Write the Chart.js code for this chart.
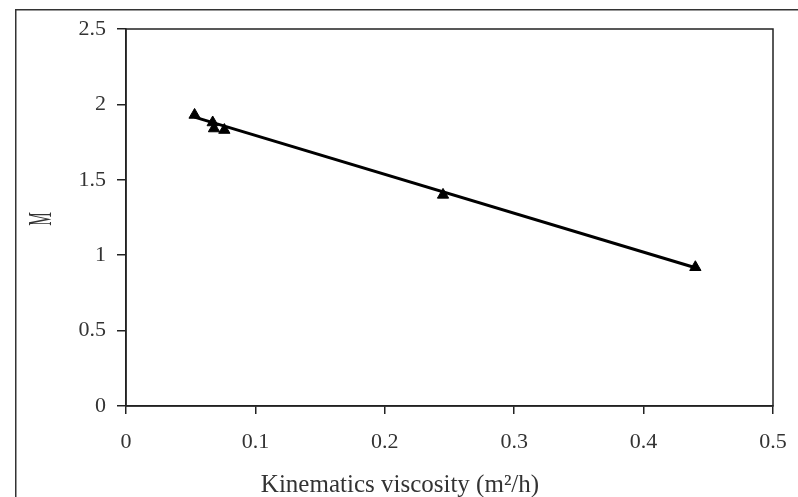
<!DOCTYPE html>
<html>
<head>
<meta charset="utf-8">
<script src="https://cdn.jsdelivr.net/npm/chart.js@4/dist/chart.umd.min.js"></script>
<style>
html,body{margin:0;padding:0;background:#fff;}
#wrap{position:relative;width:798px;height:497px;}
</style>
</head>
<body>
<div id="wrap"><canvas id="c" width="798" height="497"></canvas></div>
<script>
// Data
const viscosity = [0.053, 0.067, 0.068, 0.076, 0.245, 0.440];
const mValues   = [1.93, 1.88, 1.84, 1.83, 1.40, 0.92];
// Fitted trend line end points
const trendX = [0.053, 0.442];
const trendY = [1.916, 0.912];
const xTicks = [0, 0.1, 0.2, 0.3, 0.4, 0.5];
const yTicks = [0, 0.5, 1, 1.5, 2, 2.5];
const xTitle = 'Kinematics viscosity (m\u00B2/h)';
const yTitle = 'M';

const FONT = '"Liberation Serif", "Times New Roman", serif';

const framePlugin = {
  id: 'frame',
  beforeDraw(chart) {
    const ctx = chart.ctx;
    ctx.save();
    ctx.strokeStyle = '#333';
    ctx.lineWidth = 1.5;
    ctx.strokeRect(15.75, 9.75, 820, 520);
    ctx.restore();
  },
  afterDraw(chart) {
    const ctx = chart.ctx;
    const a = chart.chartArea;
    ctx.save();
    ctx.strokeStyle = '#222';
    ctx.lineWidth = 1.5;
    ctx.strokeRect(a.left, a.top, a.right - a.left, a.bottom - a.top);
    ctx.fillStyle = '#333';
    ctx.font = '25px ' + FONT;
    ctx.textAlign = 'center';
    ctx.textBaseline = 'alphabetic';
    ctx.fillText(xTitle, 400, 492);
    // y axis title, rotated and condensed like the reference
    ctx.save();
    ctx.translate(51, 219);
    ctx.rotate(-Math.PI / 2);
    ctx.scale(0.45, 1);
    ctx.font = '34px ' + FONT;
    ctx.textAlign = 'center';
    ctx.textBaseline = 'alphabetic';
    ctx.fillText(yTitle, 0, 0);
    ctx.restore();
    ctx.restore();
  }
};

new Chart(document.getElementById('c'), {
  type: 'scatter',
  data: {
    datasets: [
      {
        label: 'trend',
        data: trendX.map((x, i) => ({x, y: trendY[i]})),
        showLine: true,
        borderColor: '#000',
        borderWidth: 3,
        pointRadius: 0,
        fill: false
      },
      {
        label: 'M',
        data: viscosity.map((x, i) => ({x, y: mValues[i]})),
        pointStyle: 'triangle',
        pointRadius: 6.5,
        backgroundColor: '#000',
        borderColor: '#000',
        borderWidth: 1
      }
    ]
  },
  options: {
    responsive: false,
    animation: false,
    layout: { padding: { top: 29, right: 25, left: 0, bottom: 0 } },
    plugins: { legend: { display: false }, tooltip: { enabled: false } },
    scales: {
      x: {
        type: 'linear', min: 0, max: 0.5,
        afterBuildTicks(s) { s.ticks = xTicks.map(v => ({value: v})); },
        afterFit(s) { s.height = 91; s.paddingLeft = 0; s.paddingRight = 0; },
        grid: { drawOnChartArea: false, tickLength: 8, color: '#222', lineWidth: 1.5 },
        border: { color: '#222', width: 1.5 },
        ticks: { color: '#333', font: { family: FONT, size: 22 }, padding: 15, maxRotation: 0,
                 callback: v => String(v) }
      },
      y: {
        type: 'linear', min: 0, max: 2.5,
        afterBuildTicks(s) { s.ticks = yTicks.map(v => ({value: v})); },
        afterFit(s) { s.width = 126; s.paddingTop = 0; s.paddingBottom = 0; },
        grid: { drawOnChartArea: false, tickLength: 9, color: '#222', lineWidth: 1.5 },
        border: { color: '#222', width: 1.5 },
        ticks: { color: '#333', font: { family: FONT, size: 22 }, padding: 11,
                 callback: v => String(v) }
      }
    }
  },
  plugins: [framePlugin]
});
</script>
</body>
</html>
